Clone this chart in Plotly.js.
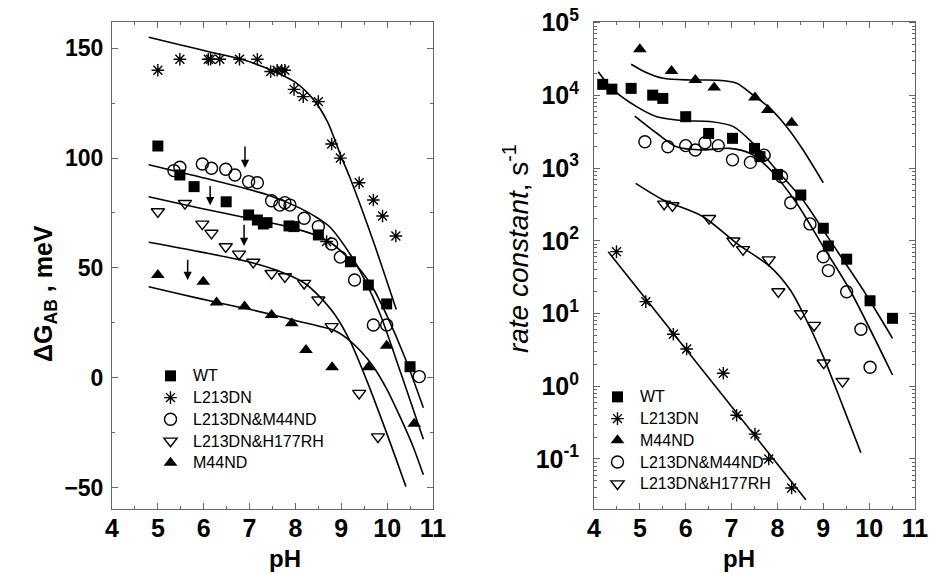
<!DOCTYPE html>
<html><head><meta charset="utf-8">
<script src="https://cdn.plot.ly/plotly-3.0.1.min.js"></script>
<style>html,body{margin:0;padding:0;background:#fff}</style>
</head><body><div id="chart" style="width:929px;height:574px"></div>
<script>
// ---------- Left panel: ΔG_AB (meV) vs pH ----------
var wtG_pH = [5.0, 5.48, 5.79, 6.49, 6.98, 7.17, 7.3, 7.38, 7.86, 7.97, 8.5, 9.2, 9.59, 9.99, 10.5];
var wtG = [105.5, 92.3, 87, 80.1, 74.1, 71.8, 70, 70.6, 69.1, 68.8, 65, 52.8, 42.2, 33.6, 5.0];
var l213G_pH = [5.0, 5.48, 6.1, 6.15, 6.35, 6.78, 7.17, 7.46, 7.6, 7.7, 7.77, 7.97, 8.17, 8.5, 8.68, 8.79, 8.98, 9.39, 9.7, 9.9, 10.19];
var l213G = [140, 145, 145, 145, 145, 145, 145, 139.4, 140, 140, 140, 131.3, 128, 125.7, 62, 106.4, 100, 88.8, 80.9, 73.6, 64.5];
var m44dblG_pH = [5.35, 5.48, 5.97, 6.17, 6.48, 6.68, 6.98, 7.17, 7.48, 7.66, 7.77, 7.88, 8.19, 8.5, 8.79, 8.98, 9.29, 9.7, 9.99, 10.7];
var m44dblG = [94.3, 95.8, 97.3, 95.4, 94.9, 92.3, 89.3, 88.8, 80.6, 78.6, 79.7, 78.6, 72.6, 68.8, 60.9, 54.9, 44.5, 24, 24, 0.5];
var h177G_pH = [5.0, 5.59, 5.97, 6.17, 6.48, 6.77, 7.08, 7.48, 7.77, 8.19, 8.5, 8.79, 9.39, 9.8];
var h177G = [75.6, 79.4, 70, 65.8, 59.7, 56.3, 52.6, 47.5, 46, 43, 35.4, 23.3, -7.1, -26.9];
var m44G_pH = [5.0, 5.99, 6.28, 6.89, 7.48, 7.92, 8.23, 8.8, 9.59, 9.99, 10.59];
var m44G = [46.8, 43.7, 34.2, 32.4, 28.5, 24.8, 12.6, 4.8, 4.8, 14.6, -21];

// fitted curves
var fitL213G_pH = [4.8, 5.5, 6.2, 6.9, 7.5, 8.0, 8.4, 8.7, 9.0, 9.2, 9.7, 10.2];
var fitL213G = [155, 151.5, 148, 144.5, 139.8, 134.5, 126.5, 116.5, 100.5, 90.5, 62, 31];
var fitM44dblG_pH = [4.8, 5.9, 7.4, 8.1, 8.5, 8.75, 9.2, 9.5, 9.85, 10.3, 10.79];
var fitM44dblG = [97, 91.5, 83.2, 77.2, 72.5, 68.6, 56, 45, 28.8, 2, -28];
var fitWtG_pH = [4.8, 5.9, 7.0, 7.8, 8.4, 8.8, 9.1, 9.4, 9.7, 10.0, 10.4, 10.79];
var fitWtG = [82.4, 77.3, 72.5, 68.9, 65.2, 61, 55.6, 49.5, 40.5, 28, 8.5, -13.7];
var fitH177G_pH = [4.8, 5.9, 7.1, 7.8, 8.2, 8.5, 8.85, 9.2, 9.55, 10.0, 10.41];
var fitH177G = [61.7, 57.4, 52.1, 47.2, 43, 37.5, 29, 16.3, -1, -25.8, -49.6];
var fitM44G_pH = [4.8, 5.5, 6.3, 6.9, 7.5, 8.0, 8.5, 8.85, 9.15, 9.45, 9.7, 10.0, 10.28, 10.55, 10.79];
var fitM44G = [41.4, 38, 34.2, 31.6, 28.7, 26, 23.5, 21.5, 17.5, 11.5, 5, -5.5, -17.7, -30.5, -44.2];

// arrows (pH, tail value, tip value)
var arrowPH = [6.9, 6.14, 6.88, 5.65];
var arrowTail = [106, 88, 70.3, 54.4];
var arrowTip = [95.5, 78.5, 60, 44.5];

// ---------- Right panel: rate constant (s^-1) vs pH ----------
var wtK_pH = [4.19, 4.39, 4.81, 5.28, 5.5, 6.0, 6.5, 7.02, 7.5, 7.62, 8.0, 8.51, 9.0, 9.11, 9.51, 10.02, 10.51];
var wtK = [14200, 12200, 12500, 10100, 9100, 5100, 3000, 2570, 1870, 1440, 820, 427, 149, 85, 56, 15, 8.6];
var l213K_pH = [4.49, 5.13, 5.73, 6.02, 6.82, 7.11, 7.51, 7.81, 8.31];
var l213K = [71, 14.6, 5.2, 3.25, 1.51, 0.40, 0.22, 0.10, 0.04];
var m44K_pH = [5.0, 5.69, 6.21, 6.62, 7.51, 7.79, 8.31];
var m44K = [43000, 21700, 16300, 12900, 9400, 6300, 4200];
var m44dblK_pH = [5.11, 5.61, 6.0, 6.21, 6.42, 6.71, 7.02, 7.41, 7.71, 8.09, 8.29, 8.71, 9.0, 9.11, 9.51, 9.82, 10.02];
var m44dblK = [2310, 1970, 2040, 1780, 2240, 2040, 1300, 1200, 1510, 762, 335, 171, 60.5, 39, 20, 6.1, 1.83];
var h177K_pH = [5.53, 5.71, 6.51, 7.04, 7.25, 7.81, 8.02, 8.51, 8.8, 9.01, 9.42];
var h177K = [321, 305, 204, 100, 76, 55, 20, 10, 6.9, 2.1, 1.17];

var fitM44K_pH = [4.81, 5.1, 5.51, 6.09, 6.67, 7.11, 7.47, 7.8, 8.2, 8.56, 9.0];
var fitM44K = [26800, 21200, 17200, 16300, 16200, 14700, 10100, 7000, 3720, 1780, 630];
var fitWtK_pH = [4.09, 4.42, 4.93, 5.37, 5.95, 6.53, 7.04, 7.47, 7.98, 8.56, 9.14, 9.87, 10.51];
var fitWtK = [21200, 11900, 7000, 5090, 4490, 4370, 3720, 2190, 944, 363, 103, 21.1, 4.57];
var fitM44dblK_pH = [4.89, 5.37, 5.8, 6.38, 6.96, 7.4, 7.85, 8.42, 9.0, 9.58, 10.51];
var fitM44dblK = [5210, 3020, 1970, 1780, 1870, 1600, 944, 329, 83, 21.1, 1.43];
var fitH177K_pH = [4.91, 5.51, 6.38, 7.11, 7.84, 8.28, 8.56, 9.0, 9.43, 9.82];
var fitH177K = [617, 365, 215, 92.5, 44.2, 21.1, 10.1, 2.56, 0.525, 0.122];
var fitL213K_pH = [4.31, 8.62];
var fitL213K = [70.8, 0.0275];

var logTickVals = [0.1, 1, 10, 100, 1000, 10000, 100000];
var logTickText = ['10<sup>-1</sup>', '10<sup>0</sup>', '10<sup>1</sup>', '10<sup>2</sup>', '10<sup>3</sup>', '10<sup>4</sup>', '10<sup>5</sup>'];

var FONT = 'Liberation Sans, Arial, Helvetica, sans-serif';
var GRAY = '#666';

function legName(s) { return '<span style="font-size:16px">' + s + '</span>'; }
function pts(x, y, sym, name, xa, ya, leg, size) {
  var open = sym.indexOf('open') >= 0;
  return {x: x, y: y, type: 'scatter', mode: 'markers', name: legName(name), xaxis: xa, yaxis: ya, legend: leg,
    marker: {symbol: sym, size: size || 11, color: '#000', line: {color: '#000', width: open ? 1.4 : 0}},
    cliponaxis: false};
}
function fit(x, y, xa, ya) {
  return {x: x, y: y, type: 'scatter', mode: 'lines', xaxis: xa, yaxis: ya, showlegend: false,
    hoverinfo: 'skip', line: {color: '#000', width: 1.6, shape: 'spline', smoothing: 0.8}};
}

var traces = [
  fit(fitL213G_pH, fitL213G, 'x', 'y'),
  fit(fitM44dblG_pH, fitM44dblG, 'x', 'y'),
  fit(fitWtG_pH, fitWtG, 'x', 'y'),
  fit(fitH177G_pH, fitH177G, 'x', 'y'),
  fit(fitM44G_pH, fitM44G, 'x', 'y'),
  pts(wtG_pH, wtG, 'square', 'WT', 'x', 'y', 'legend', 11),
  pts(l213G_pH, l213G, 'asterisk-open', 'L213DN', 'x', 'y', 'legend', 10.5),
  pts(m44dblG_pH, m44dblG, 'circle-open', 'L213DN&M44ND', 'x', 'y', 'legend', 12),
  pts(h177G_pH, h177G, 'triangle-down-open', 'L213DN&H177RH', 'x', 'y', 'legend', 11.5),
  pts(m44G_pH, m44G, 'triangle-up', 'M44ND', 'x', 'y', 'legend', 12),

  fit(fitM44K_pH, fitM44K, 'x2', 'y2'),
  fit(fitWtK_pH, fitWtK, 'x2', 'y2'),
  fit(fitM44dblK_pH, fitM44dblK, 'x2', 'y2'),
  fit(fitH177K_pH, fitH177K, 'x2', 'y2'),
  fit(fitL213K_pH, fitL213K, 'x2', 'y2'),
  pts(wtK_pH, wtK, 'square', 'WT', 'x2', 'y2', 'legend2', 11),
  pts(l213K_pH, l213K, 'asterisk-open', 'L213DN', 'x2', 'y2', 'legend2', 10.5),
  pts(m44K_pH, m44K, 'triangle-up', 'M44ND', 'x2', 'y2', 'legend2', 12),
  pts(m44dblK_pH, m44dblK, 'circle-open', 'L213DN&M44ND', 'x2', 'y2', 'legend2', 12),
  pts(h177K_pH, h177K, 'triangle-down-open', 'L213DN&H177RH', 'x2', 'y2', 'legend2', 11.5)
];

function axBase(extra) {
  var a = {showline: true, linecolor: GRAY, linewidth: 1, mirror: 'ticks', ticks: 'inside', ticklen: 6,
    tickcolor: GRAY, tickwidth: 1, showgrid: false, zeroline: false,
    tickfont: {family: FONT, size: 23, weight: 'bold', color: '#000'}};
  for (var k in extra) a[k] = extra[k];
  return a;
}
var xTickFont = {family: FONT, size: 25, weight: 'bold', color: '#000'};

var annotations = [];
for (var i = 0; i < arrowPH.length; i++) {
  annotations.push({x: arrowPH[i], y: arrowTip[i], ax: arrowPH[i], ay: arrowTail[i], xref: 'x', yref: 'y',
    axref: 'x', ayref: 'y', text: '', showarrow: true, arrowhead: 2, arrowsize: 1.1, arrowwidth: 1.5, arrowcolor: '#000'});
}
annotations.push({xref: 'paper', yref: 'paper', x: 27 / 929, y: 0.488, text: '\u0394G<sub>AB</sub> , meV',
  textangle: -90, showarrow: false, font: {family: FONT, size: 25, weight: 'bold', color: '#000'}});
annotations.push({xref: 'paper', yref: 'paper', x: 516 / 929, y: 0.566, text: '<i>rate constant</i>, s<sup>-1</sup>',
  textangle: -90, showarrow: false, font: {family: FONT, size: 28, color: '#000'}});
annotations.push({xref: 'paper', yref: 'paper', x: 267 / 929, y: 0.0, text: 'pH',
  showarrow: false, font: {family: FONT, size: 24, weight: 'bold', color: '#000'}});
annotations.push({xref: 'paper', yref: 'paper', x: 757 / 929, y: 0.0, text: 'pH',
  showarrow: false, font: {family: FONT, size: 24, weight: 'bold', color: '#000'}});

var legFont = {family: FONT, size: 14.4, color: '#000'};
var layout = {
  width: 929, height: 574, margin: {l: 0, r: 0, t: 0, b: 0}, paper_bgcolor: '#fff', plot_bgcolor: '#fff',
  showlegend: true,
  xaxis: axBase({domain: [112 / 929, 433 / 929], range: [4, 11], dtick: 1, tick0: 4, tickfont: xTickFont,
    ticklabelstandoff: -3,
    minor: {dtick: 0.5, ticks: 'inside', ticklen: 3, tickcolor: GRAY}}),
  yaxis: axBase({domain: [0.1132, 0.9622], range: [-59.8, 162.1], dtick: 50, tick0: 0, ticklabelstandoff: 3,
    minor: {dtick: 25, ticks: 'inside', ticklen: 3, tickcolor: GRAY}}),
  xaxis2: axBase({domain: [594 / 929, 915 / 929], range: [4, 11], dtick: 1, tick0: 4, anchor: 'y2', tickfont: xTickFont,
    ticklabelstandoff: -3,
    minor: {dtick: 0.5, ticks: 'inside', ticklen: 3, tickcolor: GRAY}}),
  yaxis2: axBase({domain: [0.1132, 0.9622], type: 'log', range: [-1.688, 5.014], anchor: 'x2',
    tickmode: 'array', tickvals: logTickVals, ticktext: logTickText, ticklabelstandoff: 9,
    tickfont: {family: FONT, size: 25, weight: 'bold', color: '#000'},
    minor: {dtick: 'D1', ticks: 'inside', ticklen: 3, tickcolor: GRAY}}),
  legend: {x: 148 / 929, xanchor: 'left', y: (574 - 360) / 574, yanchor: 'top', font: legFont,
    bgcolor: 'rgba(0,0,0,0)', itemwidth: 35, tracegroupgap: 0},
  legend2: {x: 595 / 929, xanchor: 'left', y: (574 - 381) / 574, yanchor: 'top', font: legFont,
    bgcolor: 'rgba(0,0,0,0)', itemwidth: 35, tracegroupgap: 0},
  annotations: annotations
};

Plotly.newPlot('chart', traces, layout, {displayModeBar: false, staticPlot: true});
</script></body></html>
